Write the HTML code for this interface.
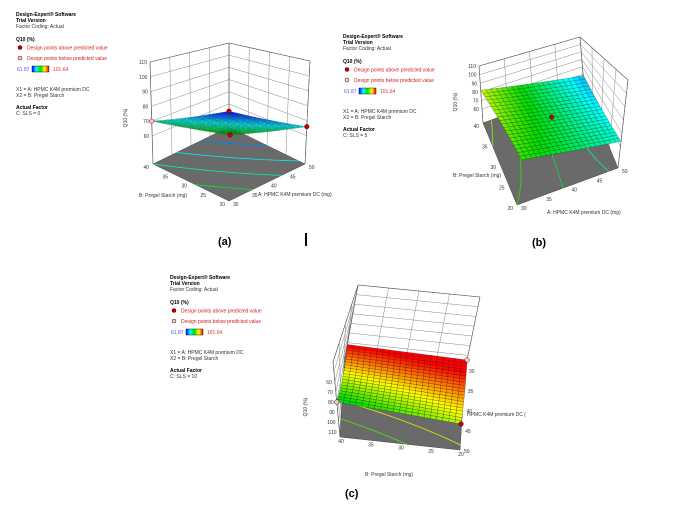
<!DOCTYPE html>
<html><head><meta charset="utf-8">
<style>
body{margin:0;background:#fff;}
#root{position:relative;width:700px;height:511px;overflow:hidden;font-family:"Liberation Sans",sans-serif;}
svg{position:absolute;left:0;top:0;}
text{font-family:"Liberation Sans",sans-serif;}
</style></head>
<body>
<div id="root">
<svg id="svg" width="700" height="511" viewBox="0 0 700 511"></svg>
</div>
<script>
// ---- data ----
const aTicks = [30, 35, 40, 45, 50];
const bTicks = [20, 25, 30, 35, 40];
const zTicks = [60, 70, 80, 90, 100, 110];
// surface corner values [A30B20, A50B20, A30B40, A50B40]
const surfA = [79, 66, 70, 54];
const surfB = [75, 64, 82, 58];
const surfC = [104.7, 89, 102, 80];
// design points: [A, B, type] type 1=above (red), 0=below (pink)
const ptsA = [[30, 40, 0], [50, 40, 1], [30, 20, 1], [50, 20, 1]];
const ptsB = [[40, 30, 1]];
const ptsC = [[30, 20, 0], [50, 40, 0], [50, 20, 1]];
const legendMin = 61.87, legendMax = 101.64;

const NS = "http://www.w3.org/2000/svg";
const svg = document.getElementById('svg');
function mk(tag, attrs, parent) {
  const e = document.createElementNS(NS, tag);
  for (const k in attrs) e.setAttribute(k, attrs[k]);
  (parent || svg).appendChild(e);
  return e;
}
function txt(x, y, s, size, fill, extra, parent) {
  const t = mk('text', Object.assign({x: x, y: y, 'font-size': size, fill: fill}, extra || {}), parent);
  t.textContent = s;
  return t;
}
function cmapR(v, lo, hi) {
  let t = (v - lo) / (hi - lo);
  t = Math.max(0, Math.min(1, t));
  const stops = [[0, 0, 255], [0, 255, 255], [0, 220, 0], [255, 255, 0], [255, 0, 0]];
  const s = t * 4, i = Math.min(3, Math.floor(s)), f = s - i;
  const c = stops[i].map((v0, k) => Math.round(v0 + (stops[i + 1][k] - v0) * f));
  return 'rgb(' + c.join(',') + ')';
}
const cmap = v => cmapR(v, legendMin, legendMax);

// geometry: floor corner screen positions and box-top screen positions, order [A30B20, A50B20, A30B40, A50B40]
const panels = [
  {id: 'a', floor: [[229, 201], [305, 164], [153, 164], [229, 127]], top: [[231, 81], [310, 61], [150, 62], [229, 43]],
   zf: 41, zt: 110, surf: surfA, pts: ptsA, near: 0, cLo: 54, cHi: 101.64, mesh: 'rgba(0,0,0,0.35)',
   walls: [['B', 40], ['A', 50]], sls: 'C: SLS = 0', lx: 16, ly: 0, label: '(a)', labX: 218, labY: 245},
  {id: 'b', floor: [[517, 205], [618, 168], [483, 123], [584, 86]], top: [[527, 109], [628, 80], [479, 66], [580, 37]],
   zf: 44, zt: 110, surf: surfB, pts: ptsB, near: 0, cLo: 50, cHi: 96, mesh: 'rgba(0,0,0,0.5)',
   walls: [['B', 40], ['A', 50]], sls: 'C: SLS = 5', lx: 343, ly: 22, label: '(b)', labX: 532, labY: 246},
  {id: 'c', floor: [[465, 370], [460, 450], [345, 357], [340, 437]], top: [[480, 297], [463, 375], [358, 285], [333, 362]],
   zf: 115, zt: 40, surf: surfC, pts: ptsC, near: 1, cLo: legendMin, cHi: legendMax, mesh: 'rgba(0,0,0,0.5)',
   walls: [['B', 40], ['A', 30]], sls: 'C: SLS = 10', lx: 170, ly: 263, label: '(c)', labX: 345, labY: 497}
];

panels.forEach(p => {
  const g = mk('g', {});
  
  
  const bil = (arr, a, b) => {
    const u = (a - 30) / 20, v = (b - 20) / 20;
    return [0, 1].map(k => arr[0][k] * (1 - u) * (1 - v) + arr[1][k] * u * (1 - v) + arr[2][k] * (1 - u) * v + arr[3][k] * u * v);
  };
  const P = (a, b, z) => {
    const f = bil(p.floor, a, b), t = bil(p.top, a, b), s = (z - p.zf) / (p.zt - p.zf);
    return [f[0] + s * (t[0] - f[0]), f[1] + s * (t[1] - f[1])];
  };
  const pt = q => q[0].toFixed(1) + ',' + q[1].toFixed(1);
  const line = (q1, q2, st, w) => mk('line', {x1: q1[0], y1: q1[1], x2: q2[0], y2: q2[1], stroke: st, 'stroke-width': w}, g);
  const zv = (a, b) => {
    const u = (a - 30) / 20, v = (b - 20) / 20, s = p.surf;
    return s[0] * (1 - u) * (1 - v) + s[1] * u * (1 - v) + s[2] * (1 - u) * v + s[3] * u * v;
  };
  const corners = [[30, 20], [50, 20], [30, 40], [50, 40]];
  const zLines = p.id === 'c' ? [40, 50, 60, 70, 80, 90, 100, 110] : zTicks;
  const wg = mk('g', {}, g);
  
  
  p.walls.forEach(w => {
    if (w[0] === 'B') {
      aTicks.forEach(a => line(P(a, w[1], p.zf), P(a, w[1], p.zt), '#888', 0.5));
      zLines.forEach(z => line(P(30, w[1], z), P(50, w[1], z), '#888', 0.5));
    } else {
      bTicks.forEach(b => line(P(w[1], b, p.zf), P(w[1], b, p.zt), '#888', 0.5));
      zLines.forEach(z => line(P(w[1], 20, z), P(w[1], 40, z), '#888', 0.5));
    }
  });
  const edges = [[0, 1], [1, 3], [3, 2], [2, 0]];
  edges.forEach(e => {
    if (e[0] === p.near || e[1] === p.near) return;
    const c1 = corners[e[0]], c2 = corners[e[1]];
    line(P(c1[0], c1[1], p.zt), P(c2[0], c2[1], p.zt), '#555', 0.6);
  });
  const fl = mk('polygon', {points: [P(30, 20, p.zf), P(50, 20, p.zf), P(50, 40, p.zf), P(30, 40, p.zf)].map(pt).join(' '), fill: '#6a6a6a', stroke: '#444', 'stroke-width': 0.5}, g);
  
  
  const N = 20;
  const lo = Math.min(...p.surf), hi = Math.max(...p.surf);
  const levels = [];
  for (let L = Math.ceil(lo / 5) * 5; L < hi; L += 5) levels.push(L);
  levels.forEach(L => {
    for (let i = 0; i < N; i++) for (let j = 0; j < N; j++) {
      const a1 = 30 + i, a2 = 31 + i, b1 = 20 + j, b2 = 21 + j;
      const cs = [[a1, b1], [a2, b1], [a2, b2], [a1, b2]];
      const cr = [];
      for (let k = 0; k < 4; k++) {
        const c1 = cs[k], c2 = cs[(k + 1) % 4];
        const v1 = zv(c1[0], c1[1]) - L, v2 = zv(c2[0], c2[1]) - L;
        if ((v1 < 0) !== (v2 < 0)) {
          const f = v1 / (v1 - v2);
          cr.push([c1[0] + (c2[0] - c1[0]) * f, c1[1] + (c2[1] - c1[1]) * f]);
        }
      }
      if (cr.length >= 2) line(P(cr[0][0], cr[0][1], p.zf), P(cr[1][0], cr[1][1], p.zf), cmapR(L, p.cLo, p.cHi), 0.8);
    }
  });
  corners.forEach((c, k) => { if (k !== p.near) line(P(c[0], c[1], p.zf), P(c[0], c[1], p.zt), '#555', 0.6); });
  const sg = mk('g', {}, g);
  
  
  const cells = [];
  for (let i = 0; i < N; i++) for (let j = 0; j < N; j++) {
    const a1 = 30 + i, a2 = 31 + i, b1 = 20 + j, b2 = 21 + j;
    cells.push({d: P(a1 + 0.5, b1 + 0.5, p.zf)[1],
      poly: [P(a1, b1, zv(a1, b1)), P(a2, b1, zv(a2, b1)), P(a2, b2, zv(a2, b2)), P(a1, b2, zv(a1, b2))],
      v: zv(a1 + 0.5, b1 + 0.5)});
  }
  cells.sort((x, y) => x.d - y.d);
  cells.forEach(c => {
    const r = mk('polygon', {points: c.poly.map(pt).join(' '), fill: cmapR(c.v, p.cLo, p.cHi), stroke: p.mesh, 'stroke-width': 0.35}, sg);
    
    
  });
  p.pts.forEach(d => {
    const q = P(d[0], d[1], zv(d[0], d[1]));
    const c = mk('circle', {cx: q[0], cy: q[1], r: 2.3, fill: d[2] ? '#c00000' : '#f4c8c8', stroke: '#600', 'stroke-width': 0.5}, g);
    
    
  });
  const tg = mk('g', {}, g);
  
  
  if (p.id !== 'c') {
    zTicks.forEach(z => { const q = P(30, 40, z); txt(q[0] - 3, q[1] + 2, String(z), 5, '#333', {'text-anchor': 'end'}, tg); });
    bTicks.forEach(b => { const q = P(30, b, p.zf); txt(q[0] - 4, q[1] + 5, String(b), 5, '#333', {'text-anchor': 'end'}, tg); });
    aTicks.forEach(a => { const q = P(a, 20, p.zf); txt(q[0] + 4, q[1] + 5, String(a), 5, '#333', {}, tg); });
  } else {
    zTicks.forEach(z => { const q = P(50, 40, z); txt(q[0] - 3, q[1] + 2, String(z), 5, '#333', {'text-anchor': 'end'}, tg); });
    bTicks.forEach(b => { const q = P(50, b, p.zf); txt(q[0] + 1, q[1] + 6, String(b), 5, '#333', {'text-anchor': 'middle'}, tg); });
    aTicks.forEach(a => { const q = P(a, 20, p.zf); txt(q[0] + 4, q[1] + 3, String(a), 5, '#333', {}, tg); });
  }
  const lg = mk('g', {});
  
  
  const x = p.lx, y = p.ly;
  txt(x, y + 16, 'Design-Expert® Software', 5, '#000', {'font-weight': 'bold'}, lg);
  txt(x, y + 22, 'Trial Version', 5, '#000', {'font-weight': 'bold'}, lg);
  txt(x, y + 28, 'Factor Coding: Actual', 5, '#333', {}, lg);
  txt(x, y + 41, 'Q10 (%)', 5, '#000', {'font-weight': 'bold'}, lg);
  mk('circle', {cx: x + 4, cy: y + 47.5, r: 2, fill: '#c00000', stroke: '#400', 'stroke-width': 0.5}, lg);
  txt(x + 11, y + 49.5, 'Design points above predicted value', 5, '#d02020', {}, lg);
  mk('circle', {cx: x + 4, cy: y + 58, r: 2, fill: '#f4d0d0', stroke: '#400', 'stroke-width': 0.5}, lg);
  txt(x + 11, y + 60, 'Design points below predicted value', 5, '#d02020', {}, lg);
  txt(x + 1, y + 71, String(legendMin), 5, '#5050ff', {}, lg);
  const gid = 'grad' + p.id;
  const defs = mk('defs', {}, lg);
  const gr = mk('linearGradient', {id: gid, x1: 0, x2: 1, y1: 0, y2: 0}, defs);
  [0, 0.25, 0.5, 0.75, 1].forEach(o => mk('stop', {offset: o, 'stop-color': cmap(legendMin + o * (legendMax - legendMin))}, gr));
  mk('rect', {x: x + 16, y: y + 66, width: 17, height: 6, fill: 'url(#' + gid + ')', stroke: '#000', 'stroke-width': 0.4}, lg);
  txt(x + 37, y + 71, String(legendMax), 5, '#e03030', {}, lg);
  txt(x, y + 91, 'X1 = A: HPMC K4M premium DC', 5, '#333', {}, lg);
  txt(x, y + 97, 'X2 = B: Pregel Starch', 5, '#333', {}, lg);
  txt(x, y + 109, 'Actual Factor', 5, '#000', {'font-weight': 'bold'}, lg);
  txt(x, y + 115, p.sls, 5, '#333', {}, lg);
  const pl = txt(p.labX, p.labY, p.label, 11, '#000', {'font-weight': 'bold'});
  
  
});

function title(x, y, s, name, rot) {
  const t = txt(x, y, s, 5, '#333', rot ? {transform: 'rotate(-90 ' + x + ' ' + y + ')', 'text-anchor': 'middle'} : {});
  
  
}
title(127, 118, 'Q10 (%)', 'z-axis-title-a', true);
title(139, 197, 'B: Pregel Starch (mg)', 'b-axis-title-a');
title(258, 196, 'A: HPMC K4M premium DC (mg)', 'a-axis-title-a');
title(457, 102, 'Q10 (%)', 'z-axis-title-b', true);
title(453, 177, 'B: Pregel Starch (mg)', 'b-axis-title-b');
title(547, 214, 'A: HPMC K4M premium DC (mg)', 'a-axis-title-b');
title(307, 407, 'Q10 (%)', 'z-axis-title-c', true);
title(365, 476, 'B: Pregel Starch (mg)', 'b-axis-title-c');
title(467, 416, 'HPMC K4M premium DC (', 'a-axis-title-c');
const bar = mk('rect', {x: 305, y: 233, width: 2, height: 13, fill: '#000'});


</script>
</body></html>
